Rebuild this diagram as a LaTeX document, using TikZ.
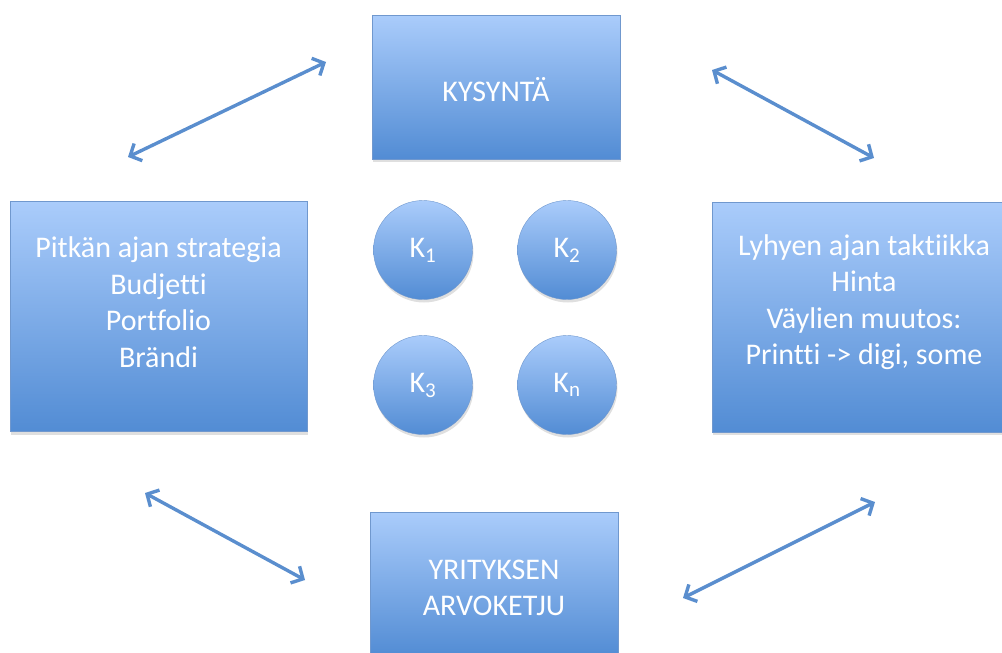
\documentclass[tikz,border=0pt]{standalone}
\usepackage{fontspec}
\setmainfont{Carlito}[Ligatures={NoCommon}]
\usetikzlibrary{arrows.meta,positioning,shadows}

\definecolor{boxtop}{RGB}{170,204,251}
\definecolor{boxbot}{RGB}{82,140,212}
\definecolor{boxline}{RGB}{112,152,206}
\definecolor{arrowblue}{RGB}{90,142,206}

\begin{document}
\begin{tikzpicture}[
    x=1pt, y=-1pt,
    box/.style={draw=boxline, top color=boxtop, bottom color=boxbot, minimum width=248pt, minimum height=144pt,
      drop shadow={opacity=0.25, shadow xshift=1pt, shadow yshift=-3pt}},
    bigbox/.style={box, minimum height=230pt},
    ball/.style={circle, draw=boxline, top color=boxtop, bottom color=boxbot, minimum size=99pt, inner sep=0pt,
      text=white, font=\fontsize{30}{34}\selectfont, drop shadow={opacity=0.25, shadow xshift=1pt, shadow yshift=-3pt}},
    boxtext/.style={text=white, align=center, font=\fontsize{30}{36.5}\selectfont},
    arrow/.style={{Straight Barb[length=9pt,width=19pt]}-{Straight Barb[length=9pt,width=19pt]}, line width=3.4pt, draw=arrowblue}
  ]
    \useasboundingbox (0,0) rectangle (1002,653);

    % boxes
    \node[box] (demand) at (496,87) {};
    \node[boxtext] (demandtxt) at (496,90) {KYSYNTÄ};
    \node[bigbox, minimum width=297pt] (longterm) at (158.5,316.5) {};
    \node[boxtext] (longtxt) at (158.5,302) {Pitkän ajan strategia\\Budjetti\\Portfolio\\Brändi};
    \node[bigbox, minimum width=304pt] (shortterm) at (864,317) {};
    \node[boxtext] (shorttxt) at (864,302) {Lyhyen ajan taktiikka\\Hinta\\Väylien muutos:\\Printti -> digi, some};
    \node[box] (chain) at (494,584) {};
    \node[boxtext] (chaintxt) at (494,588) {YRITYKSEN\\ARVOKETJU};

    % competitors
    \node[ball] (k1) at (423,250) {K\textsubscript{1}};
    \node[ball] (k2) at (567,250) {K\textsubscript{2}};
    \node[ball] (k3) at (423,385) {K\textsubscript{3}};
    \node[ball] (kn) at (567,385) {K\textsubscript{n}};

    % arrow ends
    \coordinate (tl1) at (128,157);
    \coordinate (tl2) at (326,62);
    \coordinate (tr1) at (712,70);
    \coordinate (tr2) at (874,158);
    \coordinate (bl1) at (145,493);
    \coordinate (bl2) at (305,580);
    \coordinate (br1) at (875,502);
    \coordinate (br2) at (683,598);

    \draw[arrow] (tl1) -- (tl2);
    \draw[arrow] (tr1) -- (tr2);
    \draw[arrow] (bl1) -- (bl2);
    \draw[arrow] (br1) -- (br2);
  \end{tikzpicture}
\end{document}
